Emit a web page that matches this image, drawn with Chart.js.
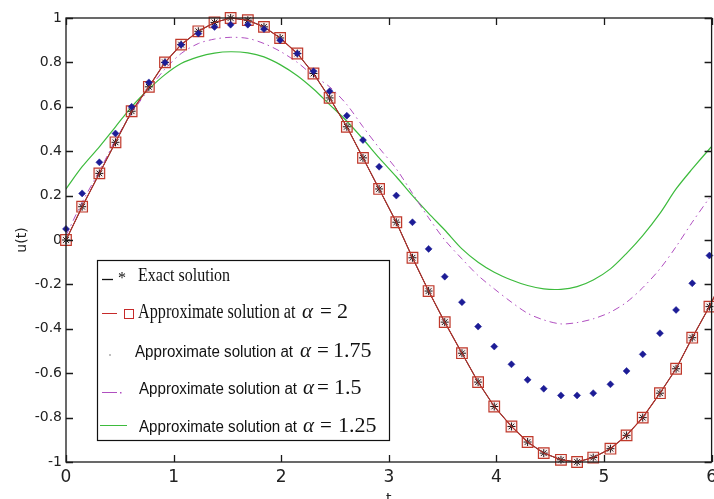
<!DOCTYPE html>
<html>
<head>
<meta charset="utf-8">
<script src="https://cdn.jsdelivr.net/npm/chart.js"></script>
<style>
  html, body { margin:0; padding:0; background:#fff; overflow:hidden; }
  #wrap { position:relative; width:722px; height:510px; }
</style>
</head>
<body>
<div id="wrap"><canvas id="grafica"></canvas></div>
<script>
// valores de t (eje x)
var tiempos = [0, 0.15, 0.31, 0.46, 0.61, 0.77, 0.92, 1.07, 1.23, 1.38, 1.53, 1.69, 1.84, 1.99,
  2.15, 2.30, 2.45, 2.61, 2.76, 2.91, 3.07, 3.22, 3.37, 3.52, 3.68, 3.83, 3.98, 4.14, 4.29,
  4.44, 4.60, 4.75, 4.90, 5.06, 5.21, 5.36, 5.52, 5.67, 5.82, 5.98, 6.13, 6.28];

// solucion exacta
var exacta = [0, 0.15, 0.30, 0.44, 0.58, 0.69, 0.80, 0.88, 0.94, 0.98, 1.00, 0.99, 0.96, 0.91,
  0.84, 0.75, 0.64, 0.51, 0.37, 0.23, 0.08, -0.08, -0.23, -0.37, -0.51, -0.64, -0.75, -0.84,
  -0.91, -0.96, -0.99, -1.00, -0.98, -0.94, -0.88, -0.80, -0.69, -0.58, -0.44, -0.30, -0.15, 0];

// alfa = 2
var alfa2 = [0, 0.15, 0.30, 0.44, 0.58, 0.69, 0.80, 0.88, 0.94, 0.98, 1.00, 0.99, 0.96, 0.91,
  0.84, 0.75, 0.64, 0.51, 0.37, 0.23, 0.08, -0.08, -0.23, -0.37, -0.51, -0.64, -0.75, -0.84,
  -0.91, -0.96, -0.99, -1.00, -0.98, -0.94, -0.88, -0.80, -0.69, -0.58, -0.44, -0.30, -0.15, 0];

// alfa = 1.75 (solo puntos)
var alfa175 = [0.05, 0.21, 0.35, 0.48, 0.60, 0.71, 0.80, 0.88, 0.93, 0.96, 0.97, 0.97, 0.95, 0.90,
  0.84, 0.76, 0.67, 0.56, 0.45, 0.33, 0.20, 0.08, -0.04, -0.165, -0.28, -0.39, -0.48, -0.56,
  -0.63, -0.67, -0.70, -0.70, -0.69, -0.65, -0.59, -0.515, -0.42, -0.315, -0.195, -0.07];

// alfa = 1.5
var alfa15 = [0.02, 0.17, 0.31, 0.45, 0.57, 0.68, 0.77, 0.84, 0.885, 0.905, 0.913, 0.908, 0.885,
  0.85, 0.80, 0.74, 0.69, 0.61, 0.51, 0.415, 0.32, 0.21, 0.10, 0.0, -0.085, -0.16, -0.22, -0.28,
  -0.33, -0.36, -0.378, -0.372, -0.355, -0.325, -0.28, -0.215, -0.13, -0.03, 0.08, 0.19];

// alfa = 1.25
var alfa125 = [0.23, 0.33, 0.42, 0.51, 0.60, 0.68, 0.745, 0.795, 0.825, 0.842, 0.848, 0.843, 0.825,
  0.79, 0.74, 0.68, 0.61, 0.535, 0.455, 0.37, 0.285, 0.20, 0.12, 0.045, -0.04, -0.10, -0.145,
  -0.18, -0.205, -0.22, -0.222, -0.21, -0.18, -0.13, -0.06, 0.02, 0.12, 0.23, 0.32, 0.41, 0.49];

var ticksX = [0, 1, 2, 3, 4, 5, 6];
var etiquetasX = ["0", "1", "2", "3", "4", "5", "6"];
var ticksY = [-1, -0.8, -0.6, -0.4, -0.2, 0, 0.2, 0.4, 0.6, 0.8, 1];
var etiquetasY = ["-1", "-0.8", "-0.6", "-0.4", "-0.2", "0", "0.2", "0.4", "0.6", "0.8", "1"];

var textosLeyenda = ["Exact solution", "Approximate solution at", "Approximate solution at",
  "Approximate solution at", "Approximate solution at"];
var valoresAlfa = ["2", "1.75", "1.5", "1.25"];

function puntos(valores){
  return valores.map(function(v, i){ return {x: tiempos[i], y: v}; });
}

function texto(ctx, str, x, y, font, sx){
  ctx.save();
  ctx.translate(x, y);
  ctx.scale(sx, 1);
  ctx.font = font;
  ctx.fillText(str, 0, 0);
  ctx.restore();
}

// ejes tipo matlab: caja y marcas hacia adentro
var cajaEjes = {
  id: 'cajaEjes',
  afterDatasetsDraw: function(chart){
    var ctx = chart.ctx, a = chart.chartArea;
    var sx = chart.scales.x, sy = chart.scales.y;
    ctx.save();
    ctx.strokeStyle = '#1a1a1a';
    ctx.lineWidth = 1.3;
    ctx.strokeRect(a.left, a.top, a.right - a.left, a.bottom - a.top);
    ctx.beginPath();
    ticksX.forEach(function(v){
      var px = Math.round(sx.getPixelForValue(v)) + 0.5;
      ctx.moveTo(px, a.bottom); ctx.lineTo(px, a.bottom - 7);
      ctx.moveTo(px, a.top); ctx.lineTo(px, a.top + 7);
    });
    ticksY.forEach(function(v){
      var py = Math.round(sy.getPixelForValue(v)) + 0.5;
      ctx.moveTo(a.left, py); ctx.lineTo(a.left + 7, py);
      ctx.moveTo(a.right, py); ctx.lineTo(a.right - 7, py);
    });
    ctx.stroke();
    ctx.restore();
  }
};

var leyenda = {
  id: 'leyenda',
  afterDraw: function(chart){
    var ctx = chart.ctx;
    ctx.save();
    ctx.fillStyle = '#fff';
    ctx.fillRect(97, 260, 292, 181);
    ctx.strokeStyle = '#111';
    ctx.lineWidth = 1.2;
    ctx.strokeRect(97.5, 260.5, 292, 180);

    ctx.fillStyle = '#111';
    ctx.textBaseline = 'alphabetic';

    // fila 1
    ctx.strokeStyle = '#111'; ctx.lineWidth = 1.3;
    ctx.beginPath(); ctx.moveTo(102, 279.5); ctx.lineTo(113, 279.5); ctx.stroke();
    texto(ctx, '*', 118, 283, '16px "Liberation Serif"', 1);
    texto(ctx, textosLeyenda[0], 138, 281, '18px "Liberation Serif"', 0.89);

    // fila 2
    ctx.strokeStyle = '#c62a2a'; ctx.lineWidth = 1;
    ctx.beginPath(); ctx.moveTo(102, 313.5); ctx.lineTo(117, 313.5); ctx.stroke();
    ctx.strokeRect(124.5, 309.5, 9, 9);
    texto(ctx, textosLeyenda[1], 138, 318, '20px "Liberation Serif"', 0.81);

    // fila 3
    ctx.fillStyle = '#aaa';
    ctx.beginPath(); ctx.arc(110, 355, 1, 0, Math.PI * 2); ctx.fill();
    ctx.fillStyle = '#111';
    texto(ctx, textosLeyenda[2], 135, 356.5, '16px "Liberation Sans"', 0.945);

    // fila 4
    ctx.strokeStyle = '#b04fc0';
    ctx.beginPath(); ctx.moveTo(102, 392.5); ctx.lineTo(117, 392.5); ctx.stroke();
    ctx.fillStyle = '#b04fc0';
    ctx.fillRect(120, 392, 1.5, 1.5);
    ctx.fillStyle = '#111';
    texto(ctx, textosLeyenda[3], 139, 394, '16px "Liberation Sans"', 0.945);

    // fila 5
    ctx.strokeStyle = '#3dbb3d';
    ctx.beginPath(); ctx.moveTo(100, 425.5); ctx.lineTo(127, 425.5); ctx.stroke();
    texto(ctx, textosLeyenda[4], 139, 431.5, '16px "Liberation Sans"', 0.945);

    // alfa = valor
    var filas = [
      {y: 318, a: 302, eq: 320, n: 337},
      {y: 356.5, a: 300, eq: 317, n: 333},
      {y: 394, a: 303, eq: 317, n: 334},
      {y: 431.5, a: 303, eq: 320, n: 338}
    ];
    filas.forEach(function(f, i){
      texto(ctx, '\u03B1', f.a, f.y, 'italic 21px "Liberation Serif"', 1);
      texto(ctx, '=', f.eq, f.y, '21px "Liberation Serif"', 1);
      texto(ctx, valoresAlfa[i], f.n, f.y, '21px "Liberation Serif"', 1.05);
    });
    ctx.restore();
  }
};

var config = {
  type: 'scatter',
  data: {
    datasets: [
      {
        label: 'Exact solution',
        data: puntos(exacta),
        showLine: true,
        borderColor: '#111',
        borderWidth: 1,
        pointStyle: 'star',
        pointRadius: 4,
        pointBorderColor: '#111',
        pointBorderWidth: 1,
        backgroundColor: 'rgba(0,0,0,0)',
        order: 3,
        clip: 12
      },
      {
        label: 'alfa 2',
        data: puntos(alfa2),
        showLine: true,
        borderColor: '#b8302a',
        borderWidth: 1.1,
        pointStyle: 'rect',
        pointRadius: 7.5,
        pointBorderColor: '#c0392b',
        pointBorderWidth: 1.2,
        pointBackgroundColor: 'rgba(200,80,80,0.10)',
        backgroundColor: 'rgba(0,0,0,0)',
        order: 2,
        clip: 12
      },
      {
        label: 'alfa 1.75',
        data: puntos(alfa175),
        showLine: false,
        pointStyle: 'rectRot',
        pointRadius: 3.5,
        pointBackgroundColor: '#1c1c96',
        pointBorderColor: '#1c1c96',
        pointBorderWidth: 0.5,
        order: 1,
        clip: 12
      },
      {
        label: 'alfa 1.5',
        data: puntos(alfa15),
        showLine: true,
        borderColor: '#b04fc0',
        borderWidth: 1,
        borderDash: [7, 4, 1.5, 4],
        pointRadius: 0,
        tension: 0.3,
        order: 4
      },
      {
        label: 'alfa 1.25',
        data: puntos(alfa125),
        showLine: true,
        borderColor: '#3dbb3d',
        borderWidth: 1.2,
        pointRadius: 0,
        tension: 0.3,
        order: 5
      }
    ]
  },
  options: {
    responsive: true,
    maintainAspectRatio: false,
    animation: false,
    layout: { padding: { top: 18, right: 6, left: 0, bottom: 0 } },
    plugins: {
      legend: { display: false },
      tooltip: { enabled: false }
    },
    scales: {
      x: {
        type: 'linear',
        min: 0,
        max: 6,
        grid: { display: false, drawTicks: false },
        border: { display: false },
        afterBuildTicks: function(s){ s.ticks = ticksX.map(function(v){ return {value: v}; }); },
        afterFit: function(s){ s.height = 48; },
        ticks: {
          padding: 5,
          maxRotation: 0,
          autoSkip: false,
          color: '#222',
          font: { family: 'DejaVu Sans', size: 17 },
          callback: function(v, i){ return etiquetasX[i]; }
        },
        title: {
          display: true,
          text: 't',
          color: '#222',
          font: { family: 'DejaVu Sans', size: 14 },
          padding: { top: 0, bottom: 2 }
        }
      },
      y: {
        min: -1,
        max: 1,
        grid: { display: false, drawTicks: false },
        border: { display: false },
        afterBuildTicks: function(s){ s.ticks = ticksY.map(function(v){ return {value: v}; }); },
        afterFit: function(s){ s.width = 66; },
        ticks: {
          padding: 4,
          autoSkip: false,
          color: '#222',
          font: { family: 'DejaVu Sans', size: 14 },
          callback: function(v, i){ return etiquetasY[i]; }
        },
        title: {
          display: true,
          text: 'u(t)',
          color: '#222',
          font: { family: 'DejaVu Sans', size: 14 },
          padding: { top: 14, bottom: 0 }
        }
      }
    }
  },
  plugins: [cajaEjes, leyenda]
};

var contenedor = document.getElementById('grafica').getContext('2d');
var grafica = new Chart(contenedor, config);
</script>
</body>
</html>
